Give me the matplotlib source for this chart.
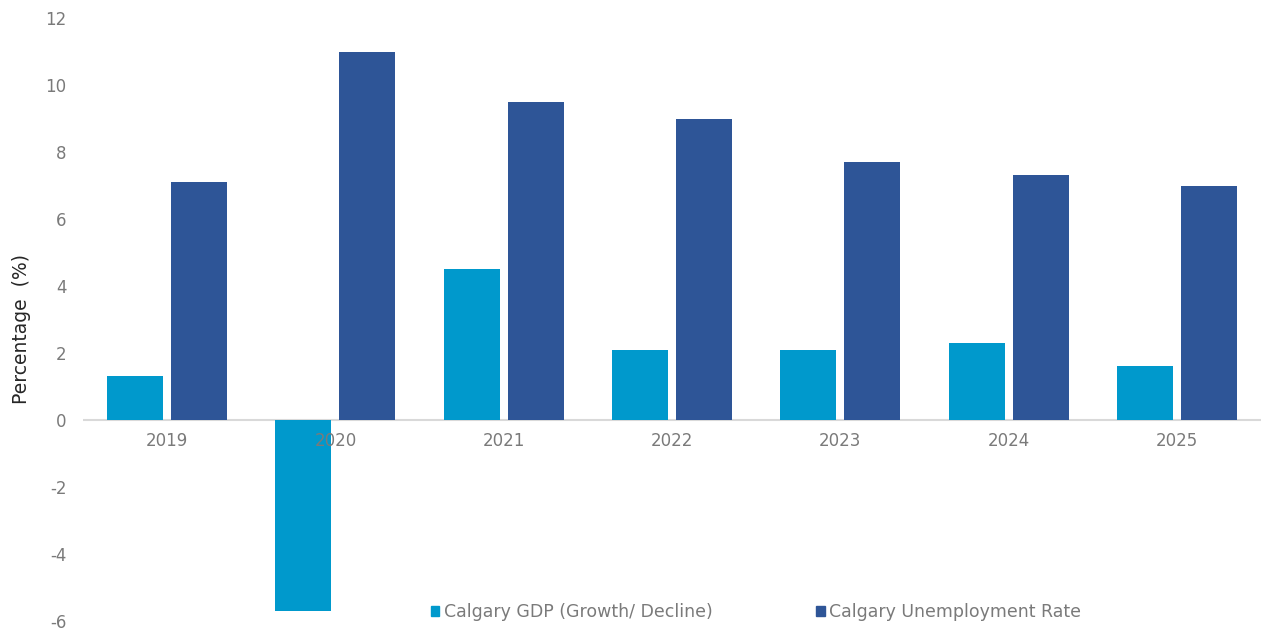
import numpy as np
import matplotlib.pyplot as plt
from matplotlib.patches import Patch

plt.rcParams['axes.unicode_minus'] = False

years = ['2019', '2020', '2021', '2022', '2023', '2024', '2025']
gdp = [1.3, -5.7, 4.5, 2.1, 2.1, 2.3, 1.6]
unemployment = [7.1, 11.0, 9.5, 9.0, 7.7, 7.3, 7.0]

gdp_color = '#0099cc'
unemp_color = '#2e5597'
text_color = '#7a7a7a'

fig = plt.figure(figsize=(12.62, 6.3), dpi=100)
ax = fig.add_axes([83 / 1262, 9 / 630, 1178 / 1262, 603 / 630])

x = np.arange(len(years))
width = 0.333
ax.bar(x - 0.19, gdp, width, color=gdp_color, zorder=2)
ax.bar(x + 0.19, unemployment, width, color=unemp_color, zorder=2)

ax.set_xlim(-0.5, len(years) - 0.5)
ax.set_ylim(-6, 12)
ax.set_yticks(np.arange(-6, 13, 2))
ax.tick_params(axis='y', length=0, pad=12, labelsize=12, labelcolor=text_color)
ax.set_xticks([])
for s in ax.spines.values():
    s.set_visible(False)
ax.axhline(0, color='#d9d9d9', lw=1.5, zorder=1)

# year labels sit just under the zero line
for i, yr in enumerate(years):
    ax.annotate(yr, (i, 0), xytext=(0, -15), textcoords='offset points',
                ha='center', va='center', fontsize=12, color=text_color, zorder=5)

fig.text(22 / 1262, 1 - 329 / 630, 'Percentage  (%)', rotation=90,
         ha='center', va='center', fontsize=13.5, color='#262626')

handles = [Patch(color=gdp_color), Patch(color=unemp_color)]
fig.legend(handles, ['Calgary GDP (Growth/ Decline)', 'Calgary Unemployment Rate'],
           loc='center', bbox_to_anchor=(756 / 1262, 1 - 612 / 630), ncol=2,
           frameon=False, fontsize=12.5, labelcolor=text_color,
           handlelength=0.5, handleheight=0.5, handletextpad=0.25,
           columnspacing=6.0)

fig.savefig('out.png', dpi=100)
